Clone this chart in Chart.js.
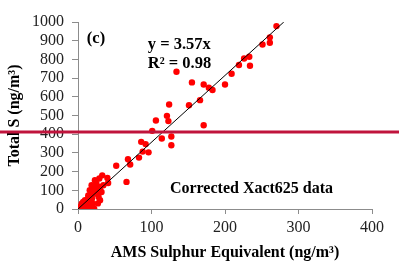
<!DOCTYPE html>
<html>
<head>
<meta charset="utf-8">
<script src="https://cdn.jsdelivr.net/npm/chart.js@4"></script>
<style>
  body { margin: 0; background: #fff; }
  #wrap { width: 399px; height: 261px; position: relative; }
</style>
</head>
<body>
<div id="wrap"><canvas id="sulphurChart"></canvas></div>
<script>
// AMS sulphur equivalent (x) vs total S from Xact625 (y), ng/m3
const amsS = [270, 261, 261, 251, 233, 226, 219, 234, 209, 200, 183, 178, 171, 155, 166, 171,
  134, 151, 124, 121, 123, 106, 101, 86, 92, 114, 127, 127, 96, 88, 83, 68, 71, 52, 66,
  41, 40, 33, 29, 23, 18.5, 25, 16, 21, 25, 23, 18.5, 14, 28, 30, 16, 9.5, 5, 12, 3,
  9.5, 15, 22, 20, 32, 34.5, 7, 11, 19, 26, 30, 20, 14, 8, 27];
const totalS = [978, 918, 889, 880, 814, 805, 770, 766, 723, 666, 636, 648, 666, 677, 582, 448,
  734, 555, 559, 498, 470, 473, 418, 359, 347, 377, 388, 341, 303, 307, 275, 266, 238, 231, 145,
  139, 166, 180, 163, 154, 127, 136, 100, 100, 109, 82, 73, 73, 64, 47, 47, 47, 29, 25, 11,
  2, 11, 2, 29, 91, 127, 38, 18, 55, 90, 118, 120, 60, 15, 30];

// linear fit through origin, y = 3.57x
const fitX = [0, 280];
const fitY = [0, 1000];

const xTicks = [0, 100, 200, 300, 400];
const yTicks = [0, 100, 200, 300, 400, 500, 600, 700, 800, 900, 1000];

const serif = "'Liberation Serif', 'Times New Roman', serif";

const points = amsS.map((x, i) => ({ x: x, y: totalS[i] }));
const fitLine = fitX.map((x, i) => ({ x: x, y: fitY[i] }));

const overlay = {
  id: 'overlay',
  afterDraw(chart) {
    const c = chart.ctx;
    const xs = chart.scales.x, ys = chart.scales.y;
    c.save();
    c.fillStyle = '#000';
    c.textBaseline = 'middle';
    c.textAlign = 'left';
    c.font = "bold 16.5px " + serif;
    c.fillText('(c)', xs.getPixelForValue(12), ys.getPixelForValue(908));
    c.fillText('y = 3.57x', xs.getPixelForValue(95), ys.getPixelForValue(880));
    c.fillText('R\u00B2 = 0.98', xs.getPixelForValue(95), ys.getPixelForValue(775));
    c.font = "bold 16px " + serif;
    c.fillText('Corrected Xact625 data', xs.getPixelForValue(125), ys.getPixelForValue(110));
    // red horizontal rule across the picture
    c.strokeStyle = '#c0143c';
    c.lineWidth = 3;
    c.beginPath();
    c.moveTo(0, 132);
    c.lineTo(chart.width, 132);
    c.stroke();
    c.restore();
  }
};

const ctx = document.getElementById('sulphurChart').getContext('2d');
const sulphurChart = new Chart(ctx, {
  type: 'scatter',
  data: {
    datasets: [{
      label: 'fit',
      data: fitLine,
      showLine: true,
      borderColor: '#000',
      borderWidth: 1,
      pointRadius: 0,
      order: 0
    }, {
      label: 'Xact625',
      data: points,
      backgroundColor: '#ff0000',
      borderWidth: 0,
      pointRadius: 3.2,
      order: 1
    }]
  },
  options: {
    responsive: true,
    maintainAspectRatio: false,
    animation: false,
    layout: { padding: { top: 22, right: 27, left: 0, bottom: 0 } },
    plugins: { legend: { display: false }, tooltip: { enabled: false } },
    scales: {
      x: {
        type: 'linear',
        min: 0, max: 400,
        afterFit: s => { s.height = 52; },
        afterBuildTicks: s => { s.ticks = xTicks.map(v => ({ value: v })); },
        border: { color: '#8c8c8c', width: 1 },
        grid: { drawOnChartArea: false, tickLength: 5, color: '#8c8c8c' },
        ticks: { color: '#222', padding: 4, autoSkip: false, maxRotation: 0,
          font: { family: serif, size: 16 }, callback: v => String(v) },
        title: {
          display: true,
          text: 'AMS Sulphur Equivalent (ng/m\u00B3)',
          color: '#000',
          font: { family: serif, size: 16, weight: 'bold', lineHeight: 1.07 },
          padding: { top: 0, bottom: 0 }
        }
      },
      y: {
        type: 'linear',
        min: 0, max: 1000,
        afterFit: s => { s.width = 78; },
        afterBuildTicks: s => { s.ticks = yTicks.map(v => ({ value: v })); },
        border: { color: '#8c8c8c', width: 1 },
        grid: { drawOnChartArea: false, tickLength: 6, color: '#8c8c8c' },
        ticks: { color: '#222', padding: 8, autoSkip: false,
          font: { family: serif, size: 16 }, callback: v => String(v) },
        title: {
          display: true,
          text: 'Total S (ng/m\u00B3)',
          color: '#000',
          font: { family: serif, size: 16, weight: 'bold', lineHeight: 1.07 },
          padding: { top: 6.5, bottom: 0 }
        }
      }
    }
  },
  plugins: [overlay]
});
</script>
</body>
</html>
